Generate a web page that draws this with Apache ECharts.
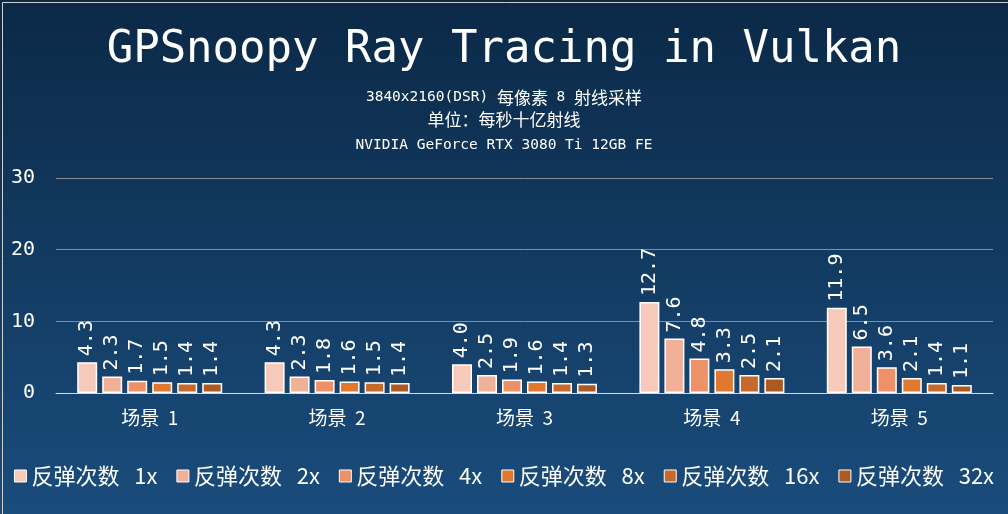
<!DOCTYPE html>
<html>
<head>
<meta charset="utf-8">
<script src="https://cdn.jsdelivr.net/npm/echarts@6/dist/echarts.min.js"></script>
<style>
html,body{margin:0;padding:0;background:#fff;}
#main{width:1008px;height:514px;}
</style>
</head>
<body>
<div id="main"></div>
<script>
var categories = ['场景  1', '场景  2', '场景  3', '场景  4', '场景  5'];
var seriesNames = ['反弹次数   1x', '反弹次数   2x', '反弹次数   4x', '反弹次数   8x', '反弹次数   16x', '反弹次数   32x'];
var bounce1 = [4.3, 4.3, 4.0, 12.7, 11.9];
var bounce2 = [2.3, 2.3, 2.5, 7.6, 6.5];
var bounce4 = [1.7, 1.8, 1.9, 4.8, 3.6];
var bounce8 = [1.5, 1.6, 1.6, 3.3, 2.1];
var bounce16 = [1.4, 1.5, 1.4, 2.5, 1.4];
var bounce32 = [1.4, 1.4, 1.3, 2.1, 1.1];
var yTicks = [0, 10, 20, 30];
var titleText = 'GPSnoopy Ray Tracing in Vulkan';
var subtitleLines = ['3840x2160(DSR) 每像素 8 射线采样', '单位：每秒十亿射线', 'NVIDIA GeForce RTX 3080 Ti 12GB FE'];

var colors = ['#f5cabb', '#f1b098', '#ee9168', '#e0792f', '#c7692a', '#ac5a23'];
var allData = [bounce1, bounce2, bounce4, bounce8, bounce16, bounce32];
var mono = '"DejaVu Sans Mono", "Noto Sans CJK SC", monospace';
var cjk = '"Noto Sans CJK SC", sans-serif';

// split a string into rich-text runs: CJK chars use a larger CJK font
function richify(s) {
  var out = '';
  var re = /([\u3000-\u9fff\uff00-\uffef]+)|([^\u3000-\u9fff\uff00-\uffef]+)/g;
  var m;
  while ((m = re.exec(s)) !== null) {
    if (m[1]) out += '{c|' + m[1] + '}';
    else out += '{a|' + m[2] + '}';
  }
  return out;
}
var subRich = {
  a: {color: '#ffffff', fontFamily: mono, fontSize: 14.5, fontWeight: 'normal'},
  c: {color: '#ffffff', fontFamily: cjk, fontSize: 17, fontWeight: 'normal'}
};

var chart = echarts.init(document.getElementById('main'), null, {renderer: 'canvas'});
var series = seriesNames.map(function (name, i) {
  return {
    name: name,
    type: 'bar',
    data: allData[i],
    barWidth: 20,
    barGap: '25%',
    itemStyle: {color: colors[i], borderColor: '#ffffff', borderWidth: 1.5},
    label: {
      show: true,
      position: 'top',
      rotate: 90,
      align: 'left',
      verticalAlign: 'middle',
      distance: 6,
      color: '#ffffff',
      fontFamily: mono,
      fontSize: 20,
      formatter: function (p) { return p.value.toFixed(1); }
    }
  };
});

chart.setOption({
  backgroundColor: {
    type: 'linear', x: 0, y: 0, x2: 0, y2: 1,
    colorStops: [{offset: 0, color: '#0b2947'}, {offset: 1, color: '#1a4c7c'}]
  },
  color: colors,
  title: [
    {text: titleText, left: 'center', top: 24, textStyle: {color: '#ffffff', fontFamily: mono, fontSize: 44, fontWeight: 'normal'}},
    {text: richify(subtitleLines[0]), left: 'center', top: 84, textStyle: {fontWeight: 'normal', rich: subRich}},
    {text: richify(subtitleLines[1]), left: 'center', top: 106, textStyle: {fontWeight: 'normal', rich: subRich}},
    {text: richify(subtitleLines[2]), left: 'center', top: 133, textStyle: {fontWeight: 'normal', rich: subRich}}
  ],
  legend: {
    bottom: 22,
    left: 'center',
    itemWidth: 12,
    itemHeight: 12,
    itemGap: 19,
    icon: 'rect',
    itemStyle: {borderColor: '#ffffff', borderWidth: 1},
    textStyle: {color: '#ffffff', fontSize: 22, fontFamily: cjk},
    data: seriesNames
  },
  grid: {left: 56, right: 15, top: 178, bottom: 121},
  xAxis: {
    type: 'category',
    data: categories,
    axisLine: {lineStyle: {color: '#d9d9d9', width: 1}},
    axisTick: {show: false},
    axisLabel: {color: '#ffffff', fontSize: 19, fontFamily: cjk, margin: 15}
  },
  yAxis: {
    type: 'value',
    min: yTicks[0],
    max: yTicks[yTicks.length - 1],
    interval: 10,
    axisLine: {show: false},
    axisTick: {show: false},
    splitLine: {lineStyle: {color: '#8c8c8c', width: 1}},
    axisLabel: {color: '#ffffff', fontSize: 20, fontFamily: mono, margin: 21}
  },
  graphic: [{
    type: 'rect', left: 0, top: 0, z: 100, silent: true,
    shape: {x: 0.5, y: 0.5, width: 1007, height: 513},
    style: {fill: null, stroke: '#d0d0d0', lineWidth: 1}
  }],
  series: series
});
</script>
</body>
</html>
